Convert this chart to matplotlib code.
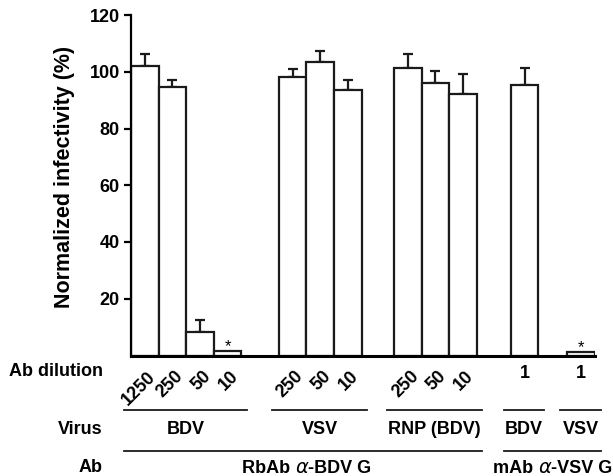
import numpy as np
import matplotlib.pyplot as plt
from matplotlib.transforms import blended_transform_factory

plt.rcParams['font.family'] = ['Liberation Sans', 'DejaVu Sans']
plt.rcParams['font.weight'] = 'bold'

# data
group_virus = ["BDV", "VSV", "RNP (BDV)", "BDV", "VSV"]
group_dilution = [["1250", "250", "50", "10"], ["250", "50", "10"],
                  ["250", "50", "10"], ["1"], ["1"]]
group_values = [[102.2, 94.5, 8.4, 1.7], [98.1, 103.4, 93.4],
                [101.4, 96.1, 92.1], [95.2], [1.3]]
group_err = [[4.1, 2.7, 4.0, 0.0], [3.0, 3.8, 3.8],
             [4.9, 4.1, 7.2], [6.2], [0.0]]
significant = [[False, False, False, True], [False, False, False],
                [False, False, False], [False], [True]]
ab_parts = [("RbAb ", "-BDV G"), ("mAb ", "-VSV G")]
ab_groups = [[0, 1, 2], [3, 4]]
ab_left_px = [242, 493]

# layout: gap before each group, in bar widths
gaps = [0, 1.35, 1.17, 1.23, 1.05]

fig = plt.figure(figsize=(6.13, 4.76), dpi=100)
ax = fig.add_axes([131 / 613, 120.5 / 476, 464 / 613, 340.5 / 476])


def fy(px):
    return 1 - px / 476


tr = blended_transform_factory(ax.transData, fig.transFigure)
FS = 13

starts = []
pos = 0.0
for g, vals in enumerate(group_values):
    pos += gaps[g]
    starts.append(pos)
    xs = pos + np.arange(len(vals)) + 0.5
    ax.bar(xs, vals, width=1.0, color="white", edgecolor="#1a1a1a",
           linewidth=1.6, zorder=2)
    errs = np.array(group_err[g])
    show = errs > 0
    if show.any():
        ax.errorbar(xs[show], np.array(vals)[show],
                    yerr=[np.zeros(show.sum()), errs[show]],
                    fmt="none", ecolor="#1a1a1a", elinewidth=1.6,
                    capsize=3.5, capthick=1.6, zorder=1)
    for x, v, s in zip(xs, vals, significant[g]):
        if s:
            ax.text(x, v + 1.6, "*", ha="center", va="center",
                    fontsize=12, fontweight="normal")
    # dilution labels
    for x, lab in zip(xs, group_dilution[g]):
        if len(group_dilution[g]) > 1:
            ax.text(x + 0.3, fy(374), lab, transform=tr, rotation=45,
                    rotation_mode="anchor", ha="right", va="center",
                    fontsize=FS)
        else:
            ax.text(x, fy(373), lab, transform=tr, ha="center",
                    va="center", fontsize=FS)
    pos += len(vals)

ends = [s + len(v) for s, v in zip(starts, group_values)]

# virus row
for g in range(len(group_virus)):
    l0 = starts[g] - 0.25
    l1 = ends[g] + 0.2
    ax.plot([l0, l1], [fy(410), fy(410)], transform=tr, color="#1a1a1a",
            lw=1.3, clip_on=False)
    ax.text((l0 + l1) / 2, fy(430), group_virus[g], transform=tr,
            ha="center", va="center", fontsize=FS)

# antibody row
for parts, idx, lpx in zip(ab_parts, ab_groups, ab_left_px):
    l0 = starts[idx[0]] - 0.25
    l1 = ends[idx[-1]] + 0.2
    ax.plot([l0, l1], [fy(451), fy(451)], transform=tr, color="#1a1a1a",
            lw=1.3, clip_on=False)
    t1 = fig.text(lpx / 613, fy(473), parts[0], ha="left", va="baseline",
                  fontsize=FS)
    t2 = ax.annotate("\u03b1", xy=(1, 0), xycoords=t1, ha="left",
                     va="bottom", fontsize=FS + 1, fontweight="normal",
                     style="italic", family="DejaVu Sans")
    ax.annotate(parts[1], xy=(1, 0), xycoords=t2, ha="left",
                va="bottom", fontsize=FS)

fig.text(103 / 613, fy(372), "Ab dilution", ha="right", va="center",
         fontsize=FS)
fig.text(103 / 613, fy(430), "Virus", ha="right", va="center", fontsize=FS)
fig.text(103 / 613, fy(468), "Ab", ha="right", va="center", fontsize=FS)

ax.set_xlim(0, ends[-1])
ax.set_ylim(0, 120)
ax.set_yticks([20, 40, 60, 80, 100, 120])
ax.tick_params(axis="y", direction="out", length=5, width=1.6,
               labelsize=FS, pad=3)
ax.set_xticks([])
ax.spines["top"].set_visible(False)
ax.spines["right"].set_visible(False)
ax.spines["left"].set_linewidth(1.6)
ax.spines["bottom"].set_linewidth(2.2)
ax.set_ylabel("Normalized infectivity (%)", fontsize=15.5,
              fontweight="bold")
ax.yaxis.set_label_coords(-0.12, 0.523)

fig.savefig("out.png", dpi=100)
